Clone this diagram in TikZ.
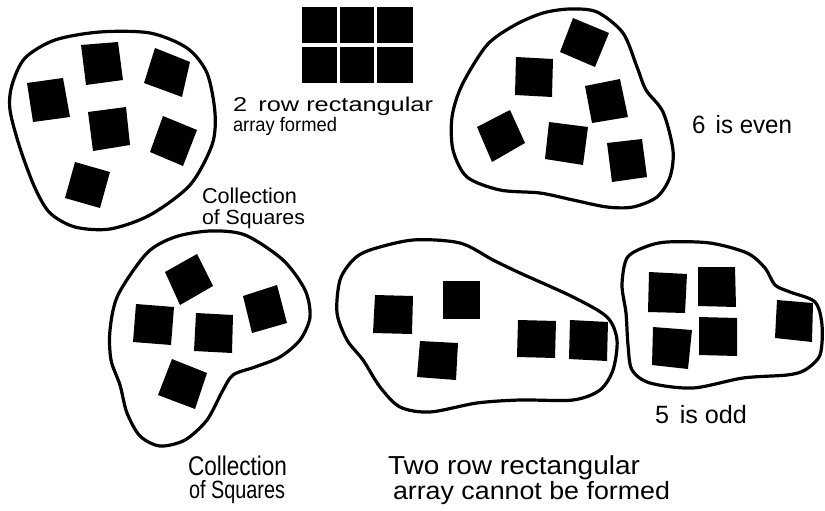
\documentclass[tikz,border=0pt]{standalone}
\usepackage{fontspec}
\setmainfont{Liberation Sans}
\usepackage{graphicx}
\newcommand{\fitlabel}[3]{\resizebox{#1pt}{\height}{\fontsize{#2}{#2}\selectfont #3}}
\tikzset{
  blob/.style={line width=3.2pt, line join=round},
  sq/.style={fill=black},
  lbl/.style={anchor=base west, inner sep=0pt, outer sep=0pt, text=black},
}
\begin{document}
\begin{tikzpicture}[x=1pt,y=-1pt]
\useasboundingbox (0,0) rectangle (825,511);

% ---------- blob 1 (top left) ----------
\draw[blob] plot[smooth cycle] coordinates {
  (12,85) (25,58) (55,40) (100,32) (150,33) (187,48) (207,73) (215,113)
  (212,145) (190,185) (150,215) (110,229) (75,227) (50,213) (35,188)
  (20,148) (10,110)};
\fill[sq] (27,83) -- (63,78) -- (70,117) -- (33,122) -- cycle;
\fill[sq] (81,45) -- (118,42) -- (123,80) -- (86,85) -- cycle;
\fill[sq] (155,48) -- (190,62) -- (182,97) -- (144,83) -- cycle;
\fill[sq] (88,112) -- (126,107) -- (130,145) -- (93,151) -- cycle;
\fill[sq] (163,116) -- (197,130) -- (183,166) -- (150,152) -- cycle;
\fill[sq] (75,162) -- (110,172) -- (100,208) -- (65,198) -- cycle;

% ---------- 2 x 3 array ----------
\foreach \xa/\xb in {302/337, 340/374, 377/413}
  \foreach \ya/\yb in {7/43, 47/83}
    \fill[sq] (\xa,\ya) rectangle (\xb,\yb);

% ---------- blob 2 (top right) ----------
\draw[blob] plot[smooth cycle] coordinates {
  (452,117) (462,85) (487,45) (515,25) (543,13) (570,9) (597,12) (623,33)
  (637,67) (646,90) (663,112) (673,150) (670,177) (657,197) (633,207)
  (607,207) (573,200) (540,193) (500,190) (467,177) (453,150)};
\fill[sq] (573,18) -- (609,33) -- (595,67) -- (560,52) -- cycle;
\fill[sq] (516,57) -- (553,59) -- (552,97) -- (515,95) -- cycle;
\fill[sq] (585,86) -- (620,79) -- (628,117) -- (592,123) -- cycle;
\fill[sq] (477,127) -- (510,110) -- (525,143) -- (492,162) -- cycle;
\fill[sq] (549,122) -- (588,127) -- (583,165) -- (545,159) -- cycle;
\fill[sq] (607,143) -- (642,139) -- (647,177) -- (612,182) -- cycle;

% ---------- blob 3 (bottom left) ----------
\draw[blob] plot[smooth cycle] coordinates {
  (147,253) (175,237) (210,231) (245,235) (283,260) (305,290) (310,317)
  (300,340) (280,357) (255,367) (233,375) (222,392) (207,420) (185,440)
  (160,446) (140,436) (127,413) (120,385) (111,360) (110,330) (118,295)};
\fill[sq] (165,272) -- (197,254) -- (213,286) -- (180,305) -- cycle;
\fill[sq] (136,304) -- (174,307) -- (171,345) -- (133,342) -- cycle;
\fill[sq] (196,313) -- (233,315) -- (232,353) -- (194,351) -- cycle;
\fill[sq] (243,296) -- (277,285) -- (287,323) -- (252,333) -- cycle;
\fill[sq] (172,359) -- (207,373) -- (195,409) -- (158,395) -- cycle;

% ---------- blob 4 (bottom middle) ----------
\draw[blob] plot[smooth cycle] coordinates {
  (340,280) (353,260) (370,250) (413,240) (460,243) (493,260) (520,273)
  (573,297) (607,317) (617,340) (613,370) (600,390) (573,400) (520,400)
  (477,403) (430,412) (400,407) (380,387) (363,360) (347,340) (337,313)};
\fill[sq] (375,295) -- (413,296) -- (412,334) -- (373,333) -- cycle;
\fill[sq] (443,281) -- (480,281) -- (480,319) -- (443,319) -- cycle;
\fill[sq] (420,341) -- (458,343) -- (456,380) -- (417,377) -- cycle;
\fill[sq] (518,320) -- (556,321) -- (555,358) -- (517,357) -- cycle;
\fill[sq] (570,320) -- (608,322) -- (607,361) -- (569,359) -- cycle;

% ---------- blob 5 (bottom right) ----------
\draw[blob] plot[smooth cycle] coordinates {
  (622,285) (627,258) (645,247) (667,242) (710,243) (747,253) (765,268)
  (775,285) (790,292) (815,302) (822,325) (820,355) (805,370) (787,375)
  (743,378) (693,388) (650,383) (632,370) (628,345) (626,313)};
\fill[sq] (649,272) -- (687,274) -- (685,313) -- (648,312) -- cycle;
\fill[sq] (698,267) -- (735,267) -- (736,307) -- (698,306) -- cycle;
\fill[sq] (653,327) -- (692,330) -- (688,369) -- (652,365) -- cycle;
\fill[sq] (699,317) -- (737,318) -- (737,356) -- (699,355) -- cycle;
\fill[sq] (777,300) -- (813,303) -- (812,342) -- (775,338) -- cycle;

% ---------- labels ----------
\node[lbl] (arrayA) at (233,111) {\fitlabel{200}{20}{2\hspace{0.45em}row rectangular}};
\node[lbl] (arrayB) at (233,131) {\fitlabel{104}{19.5}{array formed}};
\node[lbl] (even) at (692,133) {\fitlabel{100}{25}{6\hspace{0.15em} is even}};
\node[lbl] (collA) at (202,203) {\fitlabel{95}{21.5}{Collection}};
\node[lbl] (collB) at (202,224) {\fitlabel{103}{20.5}{of Squares}};
\node[lbl] (collC) at (188,475) {\fitlabel{99}{27}{Collection}};
\node[lbl] (collD) at (189,498) {\fitlabel{96}{25}{of Squares}};
\node[lbl] (notA) at (388,474) {\fitlabel{252}{26}{Two row rectangular}};
\node[lbl] (notB) at (393,499) {\fitlabel{277}{25}{array cannot be formed}};
\node[lbl] (odd) at (655,423) {\fitlabel{92}{25}{5\hspace{0.15em} is odd}};
\end{tikzpicture}
\end{document}
